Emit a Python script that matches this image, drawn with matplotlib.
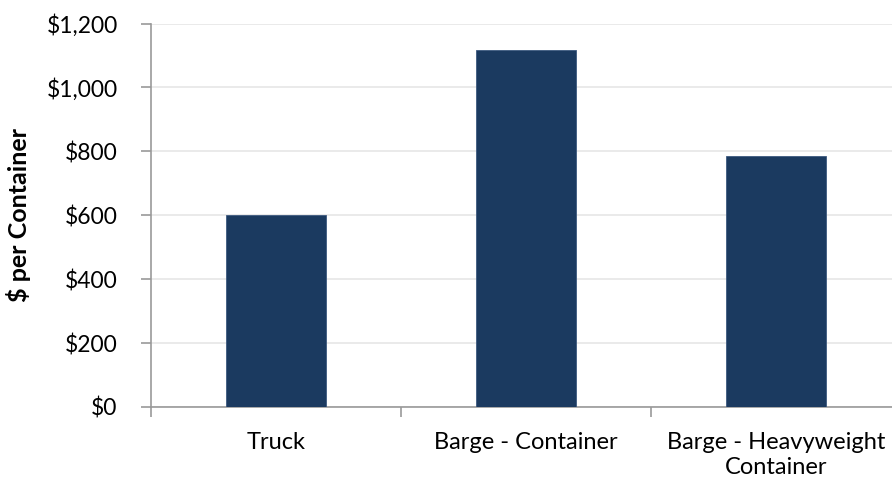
import matplotlib.pyplot as plt
from matplotlib.ticker import FuncFormatter

categories = ['Truck', 'Barge - Container', 'Barge - Heavyweight\nContainer']
cost_per_container = [600, 1117, 786]
y_ticks = [0, 200, 400, 600, 800, 1000, 1200]

plt.rcParams['font.family'] = ['Lato', 'DejaVu Sans']

fig = plt.figure(figsize=(8.92, 4.83), dpi=100)
ax = fig.add_axes([151 / 892, 76 / 483, 750 / 892, 383.5 / 483])

x = range(len(categories))
ax.bar(x, cost_per_container, width=0.4, color='#1b3a60', edgecolor='#3d5a80',
       linewidth=0.6, zorder=3)

ax.set_xlim(-0.5, 2.5)
ax.set_ylim(0, 1200)
ax.set_yticks(y_ticks)
ax.yaxis.set_major_formatter(FuncFormatter(lambda v, p: '\\${:,.0f}'.format(v)))
ax.grid(axis='y', color='#e6e6e6', linewidth=1.2, zorder=0)

ax.set_xticks(list(x))
ax.set_xticklabels(categories, linespacing=1.25)
ax.set_xticks([-0.5, 0.5, 1.5, 2.5], minor=True)
ax.tick_params(axis='x', which='major', length=0, pad=18, labelsize=17)
ax.tick_params(axis='x', which='minor', length=7, color='#999999', width=1.2)
ax.tick_params(axis='y', length=7, color='#999999', width=1.2, labelsize=16.5, pad=17)

for side in ['top', 'right']:
    ax.spines[side].set_visible(False)
for side in ['left', 'bottom']:
    ax.spines[side].set_color('#999999')
    ax.spines[side].set_linewidth(1.2)

ax.set_ylabel('\\$ per Container', fontsize=18, fontweight='bold', labelpad=11)

fig.savefig('out.png', dpi=100)
